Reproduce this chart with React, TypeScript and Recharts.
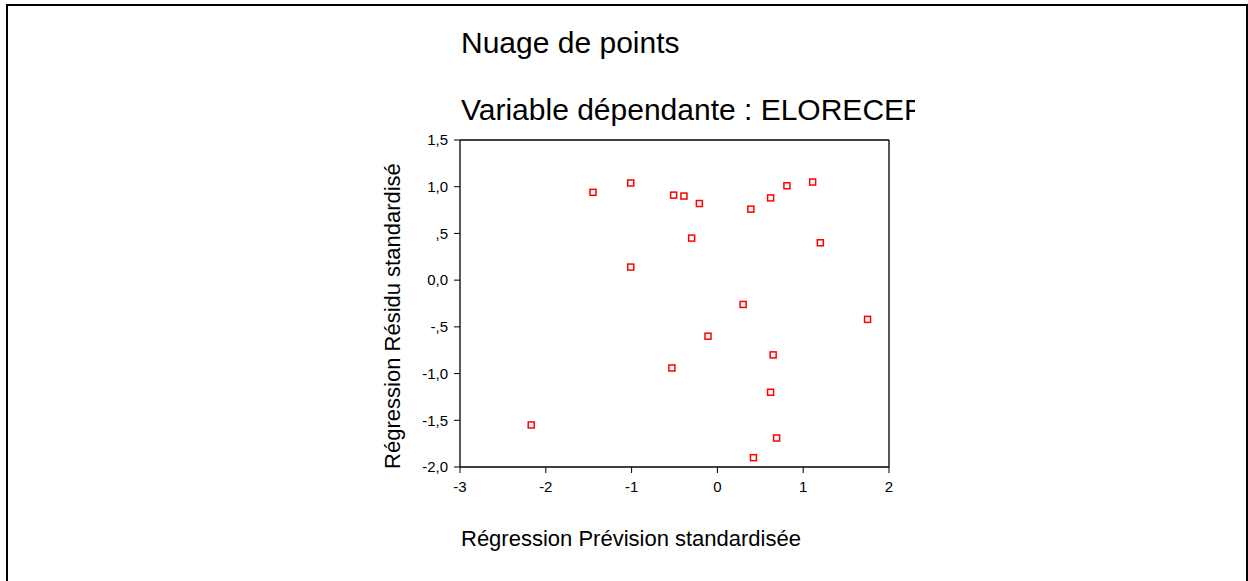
import React from 'react';
import {
    ScatterChart, Scatter, XAxis, YAxis, ReferenceLine,
} from 'recharts';

// valeurs (prévision standardisée / résidu standardisé)
const previsions = [
    -1.45, -1.01, -0.51, -0.39, -0.21, 0.39, 0.62, 0.81, 1.11, -0.30, 1.20,
    -1.01, 0.30, 1.75, -0.11, 0.65, -0.53, 0.62, -2.17, 0.69, 0.42,
];
const residus = [
    0.94, 1.04, 0.91, 0.90, 0.82, 0.76, 0.88, 1.01, 1.05, 0.45, 0.40,
    0.14, -0.26, -0.42, -0.60, -0.80, -0.94, -1.20, -1.55, -1.69, -1.90,
];

const xTicks = [-3, -2, -1, 0, 1, 2];
const xTickLabels = ['-3', '-2', '-1', '0', '1', '2'];
const yTicks = [-2, -1.5, -1, -0.5, 0, 0.5, 1, 1.5];
const yTickLabels = ['-2,0', '-1,5', '-1,0', '-,5', '0,0', ',5', '1,0', '1,5'];

const points = previsions.map((x, i) => ({ x, y: residus[i] }));

const police = '"Liberation Sans", Arial, sans-serif';

// petit carré rouge vide, comme SPSS
const Carre = (props: any) => {
    const { cx, cy } = props;
    return (
        <rect x={cx - 3} y={cy - 3} width={6} height={6}
            fill="#fff" stroke="#ff0000" strokeWidth={1.5} />
    );
};

export default function App() {
    return (
        <div style={{ position: 'absolute', left: 0, top: 0, width: 1248, height: 581, overflow: 'hidden', background: '#fff' }}>
            {/* cadre extérieur */}
            <div style={{
                position: 'absolute', left: 6, top: 4, width: 1242, height: 640,
                borderLeft: '2px solid #000', borderTop: '2px solid #000', borderRight: '2px solid #000',
                boxSizing: 'border-box',
            }} />
            <div style={{ position: 'absolute', left: 0, top: 0 }}>
                <ScatterChart
                    width={1248}
                    height={581}
                    margin={{ top: 140, right: 359, bottom: 0, left: 0 }}
                >
                    <XAxis
                        type="number"
                        dataKey="x"
                        domain={[-3, 2]}
                        ticks={xTicks}
                        tickFormatter={(v: number) => xTickLabels[xTicks.indexOf(v)]}
                        height={114}
                        tickSize={6}
                        tickMargin={8}
                        axisLine={{ stroke: '#000', strokeWidth: 1.3 }}
                        tickLine={{ stroke: '#000' }}
                        tick={{ fill: '#000', fontSize: 15, fontFamily: police }}
                    />
                    <YAxis
                        type="number"
                        dataKey="y"
                        domain={[-2, 1.5]}
                        ticks={yTicks}
                        tickFormatter={(v: number) => yTickLabels[yTicks.indexOf(v)]}
                        width={460}
                        tickSize={6}
                        tickMargin={6}
                        axisLine={{ stroke: '#000', strokeWidth: 1.3 }}
                        tickLine={{ stroke: '#000' }}
                        tick={{ fill: '#000', fontSize: 15, fontFamily: police }}
                    />
                    <ReferenceLine y={1.5} stroke="#000" strokeWidth={1.3} />
                    <ReferenceLine x={2} stroke="#000" strokeWidth={1.3} />
                    <Scatter data={points} shape={Carre} isAnimationActive={false} />
                </ScatterChart>
            </div>
            {/* titres et libellés des axes */}
            <svg width={1248} height={581} style={{ position: 'absolute', left: 0, top: 0, pointerEvents: 'none' }}>
                <defs>
                    <clipPath id="coupe">
                        <rect x={0} y={0} width={915} height={581} />
                    </clipPath>
                </defs>
                <text x={461} y={53} fontSize={30} fontFamily={police} fill="#000">Nuage de points</text>
                <text x={461} y={120} fontSize={30} fontFamily={police} fill="#000" clipPath="url(#coupe)">
                    Variable dépendante : ELORECEPT
                </text>
                <text x={461} y={546} fontSize={22} fontFamily={police} fill="#000">
                    Régression Prévision standardisée
                </text>
                <text x={400} y={316} fontSize={22} fontFamily={police} fill="#000"
                    textAnchor="middle" transform="rotate(-90 400 316)">
                    Régression Résidu standardisé
                </text>
            </svg>
        </div>
    );
}
